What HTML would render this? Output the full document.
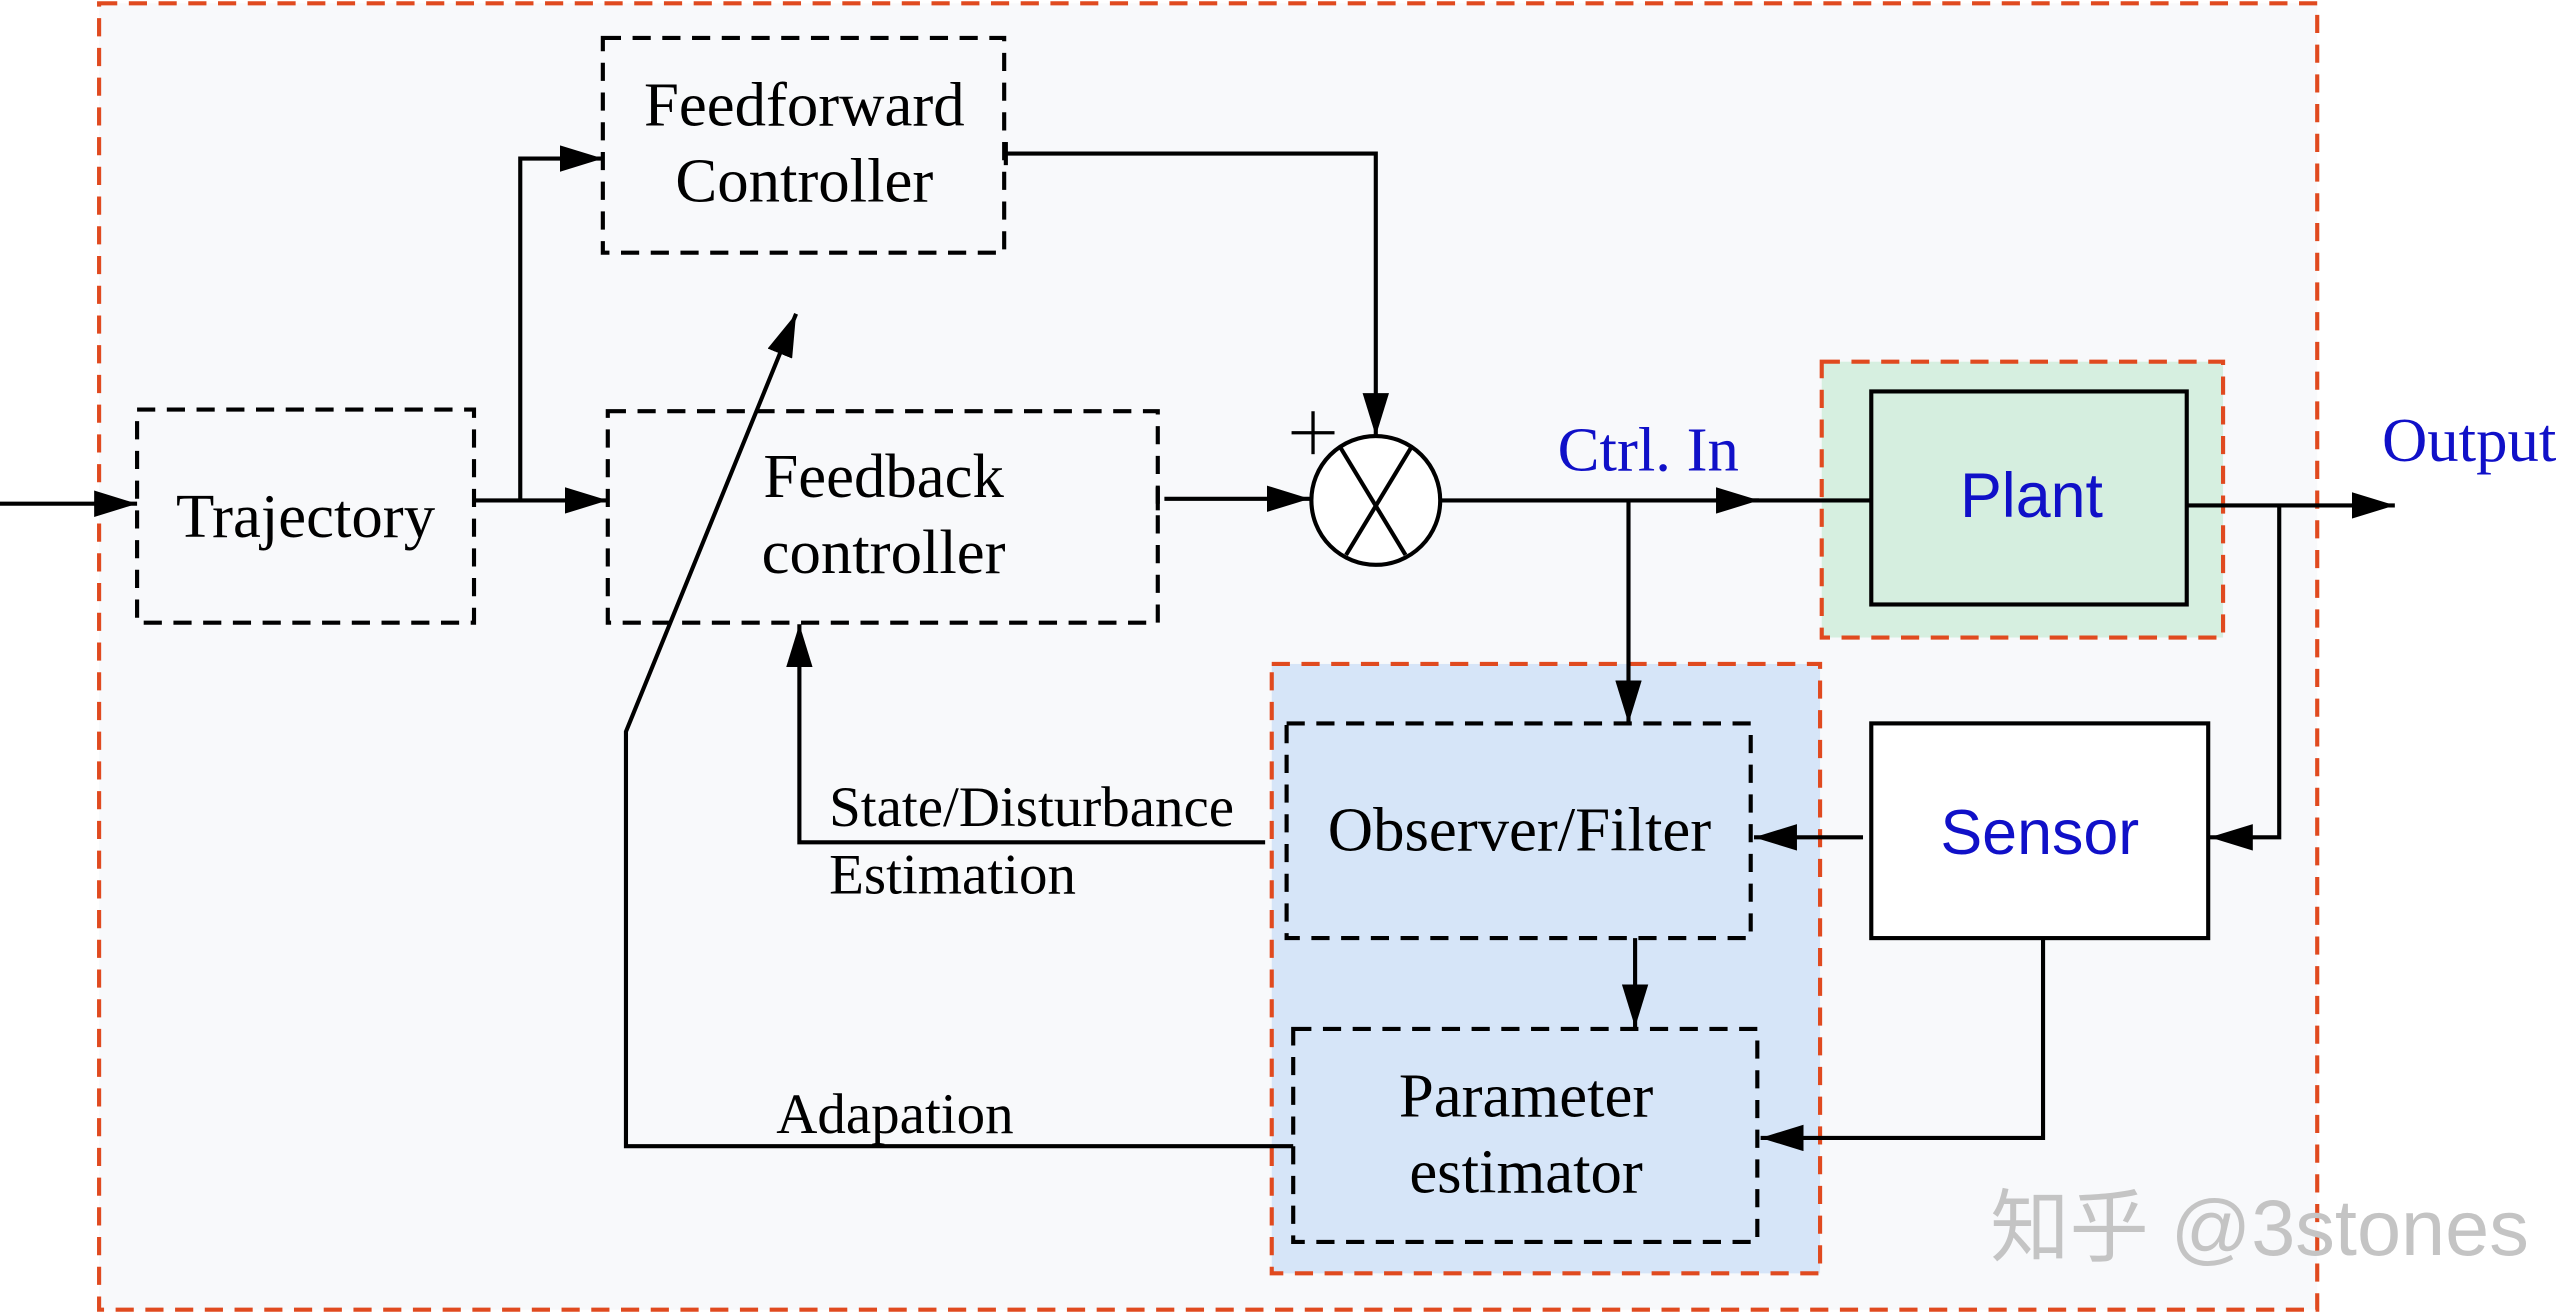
<!DOCTYPE html>
<html><head><meta charset="utf-8"><style>
html,body{margin:0;padding:0;background:#fff}
svg{display:block}
.s{font-family:"Liberation Serif",serif;fill:#000}
</style></head><body>
<svg width="2560" height="1314" viewBox="0 0 1550 795.6" preserveAspectRatio="none" xmlns="http://www.w3.org/2000/svg">
<defs>
<marker id="a" viewBox="0 0 26 16" refX="26" refY="8" markerWidth="26" markerHeight="16" markerUnits="userSpaceOnUse" orient="auto">
<path d="M0,0 L26,8 L0,16 Z" fill="#000"/></marker>
</defs>
<rect width="1550" height="796" fill="#fff"/>
<rect x="60" y="2" width="1343" height="791" fill="#f8f9fb" stroke="#e04a1f" stroke-width="2.5" stroke-dasharray="11,7"/>
<rect x="1103" y="219" width="243" height="167" fill="#d6efe0" stroke="#e04a1f" stroke-width="2.5" stroke-dasharray="11,7"/>
<rect x="770" y="402" width="332" height="369" fill="#d6e5f8" stroke="#e04a1f" stroke-width="2.5" stroke-dasharray="11,7"/>

<g fill="none" stroke="#000" stroke-width="2.5" stroke-dasharray="11,7">
<rect x="83" y="248" width="204" height="129"/>
<rect x="365" y="23" width="243" height="130"/>
<rect x="368" y="249" width="333" height="128"/>
<rect x="779" y="438" width="281" height="130"/>
<rect x="783" y="623" width="281" height="129"/>
</g>
<rect x="1133" y="237" width="191" height="129" fill="#d5eedf" stroke="#000" stroke-width="2.5"/>
<rect x="1133" y="438" width="204" height="130" fill="#fff" stroke="#000" stroke-width="2.5"/>

<g fill="none" stroke="#000" stroke-width="2.5">
<line x1="0" y1="305" x2="83" y2="305" marker-end="url(#a)"/>
<polyline points="287,303 315,303 315,96 365,96" marker-end="url(#a)"/>
<line x1="315" y1="303" x2="368" y2="303" marker-end="url(#a)"/>
<line x1="705" y1="302" x2="793" y2="302" marker-end="url(#a)"/>
<line x1="701" y1="295" x2="701" y2="309"/>
<polyline points="608,93 833,93 833,264" marker-end="url(#a)"/>
<line x1="872" y1="303" x2="1065" y2="303" marker-end="url(#a)"/>
<line x1="1060" y1="303" x2="1133" y2="303"/>
<line x1="1324" y1="306" x2="1450" y2="306" marker-end="url(#a)"/>
<polyline points="1380,306 1380,507 1338,507" marker-end="url(#a)"/>
<line x1="986" y1="303" x2="986" y2="438" marker-end="url(#a)"/>
<line x1="1128" y1="507" x2="1062" y2="507" marker-end="url(#a)"/>
<polyline points="766,510 484,510 484,378" marker-end="url(#a)"/>
<line x1="990" y1="568" x2="990" y2="622" marker-end="url(#a)"/>
<polyline points="1237,568 1237,689 1066,689" marker-end="url(#a)"/>
<polyline points="783,694 379,694 379,443 482,190" marker-end="url(#a)"/>
<line x1="609" y1="86" x2="609" y2="100"/>
</g>
<circle cx="833" cy="303" r="39" fill="#fff" stroke="#000" stroke-width="2.5"/>
<line x1="811" y1="270" x2="851" y2="336" stroke="#000" stroke-width="2.5"/>
<line x1="855" y1="270" x2="815" y2="336" stroke="#000" stroke-width="2.5"/>
<line x1="782" y1="262" x2="808" y2="262" stroke="#000" stroke-width="2"/>
<line x1="795" y1="249" x2="795" y2="275" stroke="#000" stroke-width="2"/>

<g class="s" font-size="38" text-anchor="middle">
<text x="185" y="325">Trajectory</text>
<text x="487" y="76">Feedforward</text>
<text x="487" y="122">Controller</text>
<text x="535" y="301">Feedback</text>
<text x="535" y="347">controller</text>
<text x="920" y="515">Observer/Filter</text>
<text x="924" y="676">Parameter</text>
<text x="924" y="722">estimator</text>
</g>
<g class="s" font-size="34.5">
<text x="502" y="500">State/Disturbance</text>
<text x="502" y="541">Estimation</text>
<text x="470" y="686">Adapation</text>
</g>
<g font-family="Liberation Serif,serif" font-size="38" fill="#1010c8" text-anchor="middle">
<text x="998" y="285">Ctrl. In</text>
<text x="1495" y="279">Output</text>
</g>
<g font-family="Liberation Sans,sans-serif" font-size="38" fill="#1010c8" text-anchor="middle">
<text x="1230" y="313">Plant</text>
<text x="1235" y="517">Sensor</text>
</g>
<text x="1205" y="760" font-family="Liberation Sans,'Noto Sans CJK SC',sans-serif" font-size="48" fill="#c4c4c4">知乎 @3stones</text>
</svg>
</body></html>
